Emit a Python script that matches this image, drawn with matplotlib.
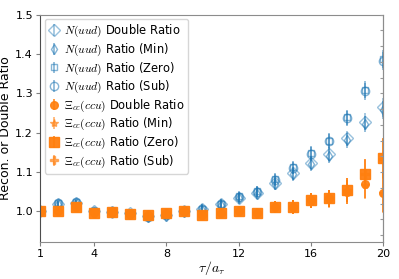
import matplotlib
matplotlib.use("Agg")
import matplotlib.pyplot as plt
import numpy as np

plt.rcParams['mathtext.fontset'] = 'cm'

tau = list(range(1, 21))

nuc_double = [1.000, 1.020, 1.022, 1.000, 0.999, 0.995, 0.988, 0.990, 1.000, 1.005, 1.018, 1.035, 1.047, 1.072, 1.097, 1.124, 1.146, 1.186, 1.228, 1.264]
nuc_min    = [1.000, 1.019, 1.021, 0.999, 0.998, 0.994, 0.987, 0.989, 0.999, 1.004, 1.017, 1.033, 1.045, 1.069, 1.094, 1.120, 1.142, 1.181, 1.222, 1.258]
nuc_zero   = [1.000, 1.021, 1.023, 1.002, 1.000, 0.994, 0.986, 0.990, 1.000, 1.007, 1.020, 1.038, 1.051, 1.082, 1.112, 1.148, 1.180, 1.239, 1.309, 1.387]
nuc_sub    = [1.000, 1.021, 1.023, 1.001, 1.000, 0.994, 0.986, 0.990, 1.000, 1.007, 1.020, 1.037, 1.050, 1.080, 1.110, 1.146, 1.178, 1.236, 1.305, 1.382]
nuc_err    = [0.002, 0.006, 0.006, 0.006, 0.006, 0.007, 0.008, 0.009, 0.010, 0.011, 0.012, 0.013, 0.014, 0.015, 0.016, 0.017, 0.018, 0.019, 0.021, 0.023]

xi_double = [1.000, 1.001, 1.011, 0.996, 0.998, 0.993, 0.990, 0.997, 1.000, 0.991, 0.996, 1.001, 0.996, 1.011, 1.011, 1.028, 1.033, 1.050, 1.070, 1.048]
xi_min    = [1.000, 1.001, 1.011, 0.996, 0.998, 0.993, 0.990, 0.997, 1.000, 0.991, 0.996, 1.001, 0.996, 1.011, 1.011, 1.027, 1.032, 1.049, 1.068, 1.046]
xi_zero   = [1.000, 1.001, 1.011, 0.996, 0.998, 0.993, 0.990, 0.997, 1.000, 0.991, 0.996, 1.001, 0.996, 1.011, 1.011, 1.028, 1.033, 1.055, 1.096, 1.136]
xi_sub    = [1.000, 1.001, 1.011, 0.996, 0.998, 0.993, 0.990, 0.997, 1.000, 0.991, 0.996, 1.001, 0.996, 1.011, 1.011, 1.028, 1.033, 1.054, 1.094, 1.133]
xi_err    = [0.002, 0.005, 0.006, 0.006, 0.006, 0.007, 0.008, 0.009, 0.010, 0.011, 0.012, 0.013, 0.014, 0.016, 0.017, 0.019, 0.022, 0.030, 0.036, 0.050]

x_ticks = [1, 4, 8, 12, 16, 20]
y_ticks = [1.0, 1.1, 1.2, 1.3, 1.4, 1.5]

blue = '#1f77b4'
orange = '#ff7f0e'

fig = plt.figure(figsize=(3.99, 2.79), dpi=100)
ax = fig.add_axes([0.100, 0.132, 0.860, 0.816])

lab_n = r'$N(uud)$'
lab_x = r'$\Xi_{cc}(ccu)$'

ax.errorbar(tau, nuc_double, yerr=nuc_err, fmt='D', color=blue, alpha=0.45, mfc='none', ms=6.5, lw=1.2,
            label=lab_n + ' Double Ratio')
ax.errorbar(tau, nuc_min, yerr=nuc_err, fmt='d', color=blue, alpha=0.55, mfc='none', ms=5, lw=1.2,
            label=lab_n + ' Ratio (Min)')
ax.errorbar(tau, nuc_zero, yerr=nuc_err, fmt='s', color=blue, alpha=0.55, mfc='none', ms=4.5, lw=1.2,
            label=lab_n + ' Ratio (Zero)')
ax.errorbar(tau, nuc_sub, yerr=nuc_err, fmt='o', color=blue, alpha=0.55, mfc='none', ms=6, lw=1.2,
            label=lab_n + ' Ratio (Sub)')
ax.errorbar(tau, xi_double, yerr=xi_err, fmt='o', color=orange, alpha=0.9, ms=5.5, lw=1.2,
            label=lab_x + ' Double Ratio')
ax.errorbar(tau, xi_min, yerr=xi_err, fmt='*', color=orange, alpha=0.6, ms=6, lw=1.2,
            label=lab_x + ' Ratio (Min)')
ax.errorbar(tau, xi_zero, yerr=xi_err, fmt='s', color=orange, alpha=0.95, ms=6.5, lw=1.2,
            label=lab_x + ' Ratio (Zero)')
ax.errorbar(tau, xi_sub, yerr=xi_err, fmt='P', color=orange, alpha=0.6, ms=6, lw=1.2,
            label=lab_x + ' Ratio (Sub)')

ax.set_xlim(1, 20)
ax.set_ylim(0.922, 1.5)
ax.set_xticks(x_ticks)
ax.set_yticks(y_ticks)
ax.tick_params(axis='both', labelsize=8, length=3, pad=2, color='0.5')
ax.yaxis.set_ticks_position('left')
for s in ax.spines.values():
    s.set_color('0.55')
ax.spines['left'].set_color('0.3')

# right side inward ticks
ax2 = ax.twinx()
ax2.set_ylim(ax.get_ylim())
ax2.set_yticks(np.arange(0.94, 1.5, 0.04))
ax2.tick_params(axis='y', direction='in', length=2.5, color='0.6', labelright=False)
ax2.spines['right'].set_color('0.55')
for s in ['left', 'top', 'bottom']:
    ax2.spines[s].set_visible(False)

ax.set_xlabel(r'$\tau/a_\tau$', fontsize=10, labelpad=0)
ax.set_ylabel('Recon. or Double Ratio', fontsize=9, labelpad=2)

leg = ax.legend(loc='upper left', fontsize=8.3, handletextpad=0.4, labelspacing=0.2,
                borderaxespad=0.4, handlelength=0.9, framealpha=0.8, borderpad=0.35)

fig.savefig('out.png', dpi=100)
